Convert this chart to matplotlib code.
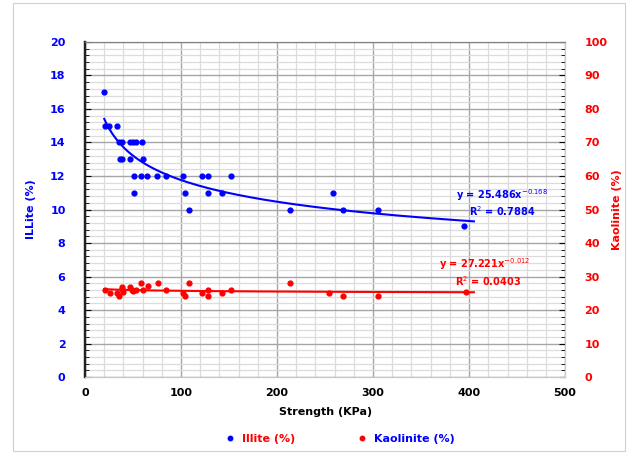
import matplotlib
matplotlib.use("Agg")
import matplotlib.pyplot as plt
import numpy as np
from matplotlib.ticker import MultipleLocator
from matplotlib.lines import Line2D
from matplotlib.patches import Rectangle

# Illite (%) vs strength (KPa), left axis
illite_x = [20, 21, 25, 33, 35.5, 38, 47, 50, 53, 59, 36, 38, 46.5, 60,
            50.5, 58.5, 65, 75, 84, 102, 122, 128, 152.5,
            50.5, 104, 128, 143, 258, 108, 213, 268.5, 305, 395]
illite_y = [17, 15, 15, 15, 14, 14, 14, 14, 14, 14, 13, 13, 13, 13,
            12, 12, 12, 12, 12, 12, 12, 12, 12,
            11, 11, 11, 11, 11, 10, 10, 10, 10, 9]

# Kaolinite (%) vs strength (KPa), right axis
kaol_x = [21, 26.5, 33, 35.5, 38, 39, 39.5, 46.5, 48.5, 50, 53, 58.5, 60,
          65.5, 76, 84, 102, 104, 108, 122, 128, 128, 143, 152.5,
          213, 254, 268.5, 305, 397]
kaol_y = [26, 25, 25, 24.2, 27, 26.2, 25.5, 27, 26, 25.7, 26, 28.2, 26,
          27.2, 28.2, 26, 25, 24.2, 28.2, 25, 26, 24.2, 25, 26,
          28.1, 25.1, 24.2, 24.2, 25.5]

# power trendlines as printed on the chart
illite_a, illite_b, illite_r2 = 25.486, -0.168, 0.7884
kaol_a, kaol_b, kaol_r2 = 27.221, -0.012, 0.0403

blue = "#0000ff"
red = "#ff0000"

fig = plt.figure(figsize=(6.3, 4.55), dpi=100)
fig.patches.append(Rectangle((13 / 630, 4 / 455), 612 / 630, 448 / 455,
                             transform=fig.transFigure, fill=False,
                             edgecolor="#d0d0d0", linewidth=0.8))
ax = fig.add_axes([0.135, 0.171, 0.762, 0.737])
ax2 = ax.twinx()

ax.set_xlim(0, 500)
ax.set_ylim(0, 20)
ax2.set_ylim(0, 100)

ax.xaxis.set_major_locator(MultipleLocator(100))
ax.xaxis.set_minor_locator(MultipleLocator(20))
ax.yaxis.set_major_locator(MultipleLocator(2))
ax.yaxis.set_minor_locator(MultipleLocator(0.4))
ax2.yaxis.set_major_locator(MultipleLocator(10))
ax2.yaxis.set_minor_locator(MultipleLocator(2))

ax.grid(which="major", color="#a6a6a6", linewidth=1.0)
ax.grid(which="minor", color="#dcdcdc", linewidth=0.9)
ax.set_axisbelow(True)

ax.scatter(illite_x, illite_y, s=12, color=blue, zorder=3)
ax2.scatter(kaol_x, kaol_y, s=12, color=red, zorder=3)

xs = np.linspace(20, 405, 200)
ax.plot(xs, illite_a * xs ** illite_b, color=blue, linewidth=1.5, zorder=3)
ax2.plot(xs, kaol_a * xs ** kaol_b, color=red, linewidth=1.5, zorder=3)

ax.text(386, 10.87, "y = %.3fx$^{%.3f}$" % (illite_a, illite_b), color=blue,
        fontsize=7, fontweight="bold", ha="left", va="center")
ax.text(400, 9.9, "R$^2$ = %.4f" % illite_r2, color=blue,
        fontsize=7, fontweight="bold", ha="left", va="center")
ax2.text(369, 33.7, "y = %.3fx$^{%.3f}$" % (kaol_a, kaol_b), color=red,
         fontsize=7, fontweight="bold", ha="left", va="center")
ax2.text(385, 28.7, "R$^2$ = %.4f" % kaol_r2, color=red,
         fontsize=7, fontweight="bold", ha="left", va="center")

for lab in ax.get_xticklabels():
    lab.set_fontweight("bold")
for lab in ax.get_yticklabels():
    lab.set_fontweight("bold")
for lab in ax2.get_yticklabels():
    lab.set_fontweight("bold")
ax.tick_params(axis="x", which="both", length=0, labelsize=8, pad=8)
ax.tick_params(axis="y", which="major", length=4, direction="in",
               labelsize=8, labelcolor=blue, pad=14)
ax.tick_params(axis="y", which="minor", length=3, direction="in")
ax2.tick_params(axis="y", which="major", length=4, direction="in",
                labelsize=8, labelcolor=red, pad=14)
ax2.tick_params(axis="y", which="minor", length=3, direction="in")

ax.set_xlabel("Strength (KPa)", fontsize=8, fontweight="bold", labelpad=6)
ax.set_ylabel("ILLite (%)", fontsize=8, fontweight="bold", color=blue,
              labelpad=10)
ax2.set_ylabel("Kaolinite (%)", fontsize=8, fontweight="bold", color=red,
               labelpad=3)

for a in (ax, ax2):
    a.spines["left"].set_color("#222222")
    a.spines["left"].set_linewidth(1.6)
    a.spines["top"].set_color("#808080")
    a.spines["bottom"].set_color("#c8c8c8")
    a.spines["right"].set_color("#c8c8c8")

handles = [Line2D([], [], marker="o", linestyle="", color=blue, markersize=3.2),
           Line2D([], [], marker="o", linestyle="", color=red, markersize=3.2)]
leg = fig.legend(handles, ["Illite (%)", "Kaolinite (%)"], loc="center",
                 bbox_to_anchor=(0.535, 0.036), ncol=2, frameon=False,
                 handletextpad=0.1, columnspacing=5,
                 prop={"weight": "bold", "size": 8})
leg.get_texts()[0].set_color(red)
leg.get_texts()[1].set_color(blue)

fig.savefig("out.png", dpi=100)
